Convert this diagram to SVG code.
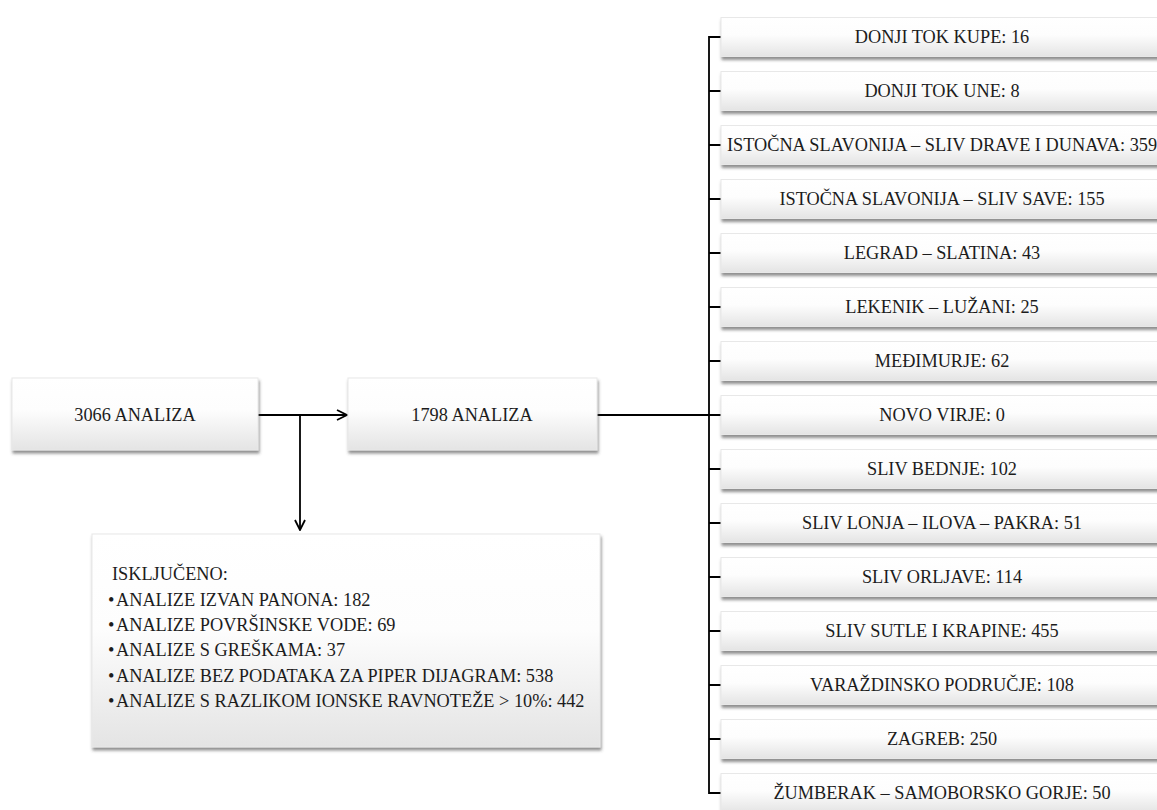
<svg xmlns="http://www.w3.org/2000/svg" width="1157" height="810" viewBox="0 0 1157 810">
<defs>
<linearGradient id="g" x1="0" y1="0" x2="0" y2="1">
<stop offset="0" stop-color="#ffffff"/>
<stop offset="0.45" stop-color="#fdfdfd"/>
<stop offset="1" stop-color="#e4e4e4"/>
</linearGradient>
<filter id="sh" x="-5%" y="-20%" width="110%" height="150%">
<feDropShadow dx="1" dy="3" stdDeviation="1.4" flood-color="#444" flood-opacity="0.6"/>
</filter>
<marker id="ah" viewBox="0 0 12 12" refX="11" refY="6" markerWidth="12" markerHeight="12" markerUnits="userSpaceOnUse" orient="auto">
<path d="M1,1 L11,6 L1,11" fill="none" stroke="#000" stroke-width="1.8"/>
</marker>
<style>
.box{fill:url(#g);stroke:#e8e8e8;stroke-width:1;filter:url(#sh)}
.t{font-family:"Liberation Serif","Times New Roman",serif;font-size:18.3px;fill:#1c1c1c}
.c{text-anchor:middle}
.ln{stroke:#000;stroke-width:1.8;fill:none}
</style>
</defs>
<rect width="1157" height="810" fill="#fff"/>

<g id="connectors">
<line class="ln" x1="258" y1="415" x2="347" y2="415" marker-end="url(#ah)"/>
<line class="ln" x1="300" y1="415" x2="300" y2="530" marker-end="url(#ah)"/>
<line class="ln" x1="597" y1="415" x2="709" y2="415"/>
<path class="ln" d="M721,37 H709 V793 H721"/>
<path class="ln" d="M709,91 H721 M709,145 H721 M709,199 H721 M709,253 H721 M709,307 H721 M709,361 H721 M709,415 H721 M709,469 H721 M709,523 H721 M709,577 H721 M709,631 H721 M709,685 H721 M709,739 H721"/>
</g>

<g id="n3066">
<rect class="box" x="12" y="378" width="246" height="72"/>
<text class="t c" x="135" y="421">3066 ANALIZA</text>
</g>
<g id="n1798">
<rect class="box" x="348" y="378" width="249" height="72"/>
<text class="t c" x="472" y="421">1798 ANALIZA</text>
</g>
<g id="excluded">
<rect class="box" x="92" y="534" width="508" height="213"/>
<text class="t" x="112" y="580">ISKLJUČENO:</text>
<text class="t" x="108" y="605.5">•</text><text class="t" x="116" y="605.5">ANALIZE IZVAN PANONA: 182</text>
<text class="t" x="108" y="631">•</text><text class="t" x="116" y="631">ANALIZE POVRŠINSKE VODE: 69</text>
<text class="t" x="108" y="656">•</text><text class="t" x="116" y="656">ANALIZE S GREŠKAMA: 37</text>
<text class="t" x="108" y="681.5">•</text><text class="t" x="116" y="681.5">ANALIZE BEZ PODATAKA ZA PIPER DIJAGRAM: 538</text>
<text class="t" x="108" y="707">•</text><text class="t" x="116" y="707">ANALIZE S RAZLIKOM IONSKE RAVNOTEŽE &gt; 10%: 442</text>
</g>

<g id="r01"><rect class="box" x="721" y="17.5" width="440" height="39"/><text class="t c" x="942" y="43">DONJI TOK KUPE: 16</text></g>
<g id="r02"><rect class="box" x="721" y="71.5" width="440" height="39"/><text class="t c" x="942" y="97">DONJI TOK UNE: 8</text></g>
<g id="r03"><rect class="box" x="721" y="125.5" width="440" height="39"/><text class="t c" x="942" y="151">ISTOČNA SLAVONIJA – SLIV DRAVE I DUNAVA: 359</text></g>
<g id="r04"><rect class="box" x="721" y="179.5" width="440" height="39"/><text class="t c" x="942" y="205">ISTOČNA SLAVONIJA – SLIV SAVE: 155</text></g>
<g id="r05"><rect class="box" x="721" y="233.5" width="440" height="39"/><text class="t c" x="942" y="259">LEGRAD – SLATINA: 43</text></g>
<g id="r06"><rect class="box" x="721" y="287.5" width="440" height="39"/><text class="t c" x="942" y="313">LEKENIK – LUŽANI: 25</text></g>
<g id="r07"><rect class="box" x="721" y="341.5" width="440" height="39"/><text class="t c" x="942" y="367">MEĐIMURJE: 62</text></g>
<g id="r08"><rect class="box" x="721" y="395.5" width="440" height="39"/><text class="t c" x="942" y="421">NOVO VIRJE: 0</text></g>
<g id="r09"><rect class="box" x="721" y="449.5" width="440" height="39"/><text class="t c" x="942" y="475">SLIV BEDNJE: 102</text></g>
<g id="r10"><rect class="box" x="721" y="503.5" width="440" height="39"/><text class="t c" x="942" y="529">SLIV LONJA – ILOVA – PAKRA: 51</text></g>
<g id="r11"><rect class="box" x="721" y="557.5" width="440" height="39"/><text class="t c" x="942" y="583">SLIV ORLJAVE: 114</text></g>
<g id="r12"><rect class="box" x="721" y="611.5" width="440" height="39"/><text class="t c" x="942" y="637">SLIV SUTLE I KRAPINE: 455</text></g>
<g id="r13"><rect class="box" x="721" y="665.5" width="440" height="39"/><text class="t c" x="942" y="691">VARAŽDINSKO PODRUČJE: 108</text></g>
<g id="r14"><rect class="box" x="721" y="719.5" width="440" height="39"/><text class="t c" x="942" y="745">ZAGREB: 250</text></g>
<g id="r15"><rect class="box" x="721" y="773.5" width="440" height="39"/><text class="t c" x="942" y="799">ŽUMBERAK – SAMOBORSKO GORJE: 50</text></g>
</svg>
